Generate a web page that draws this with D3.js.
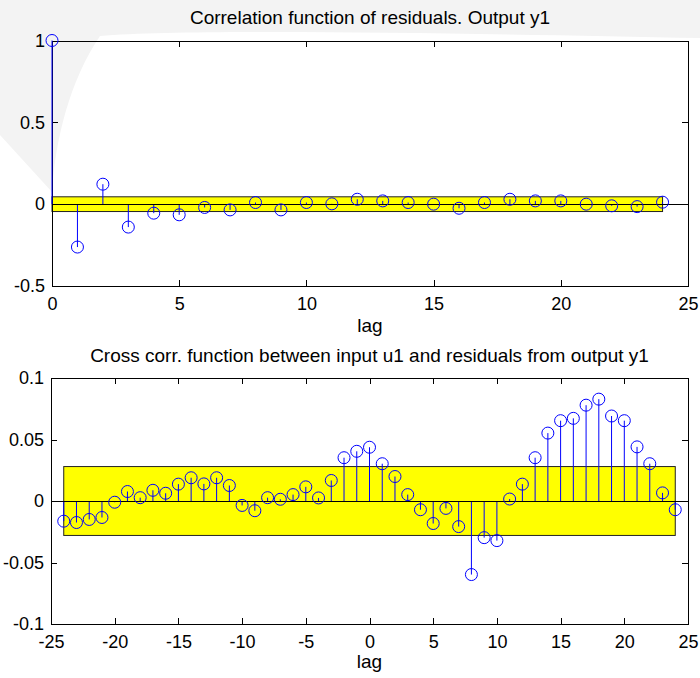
<!DOCTYPE html>
<meta charset="utf-8">
<style>
body {
  margin: 0;
  background-color: #fff;
}
svg {
  display: block;
  font-family: "Liberation Sans", Arial, Helvetica, sans-serif;
}
.axis path,
.axis line {
  fill: none;
  stroke: #000;
  stroke-width: 1px;
  shape-rendering: crispEdges;
}
.axis text {
  fill: #000;
  font-size: 18px;
}
.band {
  fill: #ffff00;
  stroke: #222;
  stroke-width: 1px;
}
.stem {
  stroke: #0000ff;
  stroke-width: 1px;
}
.mark {
  fill: none;
  stroke: #0000ff;
  stroke-width: 1px;
}
.title, .xlabel {
  font-size: 19px;
  fill: #000;
}
</style>
<svg width="700" height="678"></svg>
<script src="https://d3js.org/d3.v7.min.js"></script>
<script>

// autocorrelation of residuals, output y1
var acfLags = [0, 1, 2, 3, 4, 5, 6, 7, 8, 9, 10, 11, 12, 13, 14, 15, 16, 17, 18, 19, 20, 21, 22, 23, 24];
var acfValues = [1, -0.262, 0.122, -0.14, -0.055, -0.065, -0.02, -0.035, 0.01, -0.035, 0.01, 0.002,
                 0.03, 0.02, 0.01, 0, -0.025, 0.01, 0.03, 0.02, 0.02, 0, -0.01, -0.015, 0.012];
var acfBand = 0.045;
var acfXTicks = [0, 5, 10, 15, 20, 25];
var acfYTicks = [-0.5, 0, 0.5, 1];

// cross correlation u1 -> residuals y1
var ccfLags = [-24, -23, -22, -21, -20, -19, -18, -17, -16, -15, -14, -13, -12, -11, -10, -9, -8, -7, -6, -5, -4, -3, -2, -1,
               0, 1, 2, 3, 4, 5, 6, 7, 8, 9, 10, 11, 12, 13, 14, 15, 16, 17, 18, 19, 20, 21, 22, 23, 24];
var ccfValues = [-0.0164, -0.0175, -0.015, -0.0134, -0.001, 0.0077, 0.0027, 0.0087, 0.0063, 0.0137, 0.0189, 0.0139,
                 0.0189, 0.0126, -0.0036, -0.0079, 0.0027, 0.0014, 0.0052, 0.0115, 0.0025, 0.0167, 0.0352, 0.0404,
                 0.0437, 0.0303, 0.0199, 0.0052, -0.0071, -0.0183, -0.006, -0.0208, -0.0598, -0.0298, -0.0322, 0.0016,
                 0.0137, 0.0352, 0.0552, 0.0653, 0.0672, 0.0779, 0.0828, 0.0691, 0.0653, 0.044, 0.0303, 0.0066, -0.0071];
var ccfBand = 0.028;
var ccfXTicks = [-25, -20, -15, -10, -5, 0, 5, 10, 15, 20, 25];
var ccfYTicks = [-0.1, -0.05, 0, 0.05, 0.1];

var svg = d3.select("svg");

// faint watermark behind the plots (top strip + left wedge)
svg.append("path")
    .attr("d", "M0,0 H700 V38 C500,34 200,28 100,36 C70,80 55,140 52,192 L0,135 Z")
    .attr("fill", "#f3f3f3");

var fmt = function(d) { return String(d); };

function panel(opt) {
  var b = opt.box;
  var x = d3.scaleLinear().domain(opt.xDomain).range([b.left, b.right]);
  var y = d3.scaleLinear().domain(opt.yDomain).range([b.bottom, b.top]);
  var g = svg.append("g");

  // confidence band
  g.append("rect")
      .attr("class", "band")
      .attr("x", x(opt.lags[0]))
      .attr("width", x(opt.lags[opt.lags.length - 1]) - x(opt.lags[0]))
      .attr("y", y(opt.band))
      .attr("height", y(-opt.band) - y(opt.band));

  // axes, ticks pointing inward on all four sides
  g.append("g").attr("class", "axis")
      .attr("transform", "translate(0," + b.bottom + ")")
      .call(d3.axisBottom(x).tickValues(opt.xTicks).tickSizeInner(-6).tickSizeOuter(0).tickPadding(11).tickFormat(fmt));
  g.append("g").attr("class", "axis")
      .attr("transform", "translate(0," + b.top + ")")
      .call(d3.axisTop(x).tickValues(opt.xTicks).tickSizeInner(-6).tickSizeOuter(0).tickFormat(""));
  g.append("g").attr("class", "axis")
      .attr("transform", "translate(" + b.left + ",0)")
      .call(d3.axisLeft(y).tickValues(opt.yTicks).tickSizeInner(-6).tickSizeOuter(0).tickPadding(7).tickFormat(fmt));
  g.append("g").attr("class", "axis")
      .attr("transform", "translate(" + b.right + ",0)")
      .call(d3.axisRight(y).tickValues(opt.yTicks).tickSizeInner(-6).tickSizeOuter(0).tickFormat(""));

  var pts = opt.lags.map(function(l, i) { return {lag: l, v: opt.values[i]}; });

  g.append("g").selectAll("line")
      .data(pts)
    .enter().append("line")
      .attr("class", "stem")
      .attr("x1", function(d) { return x(d.lag); })
      .attr("x2", function(d) { return x(d.lag); })
      .attr("y1", y(0))
      .attr("y2", function(d) { return y(d.v); });

  // zero line
  g.append("line")
      .attr("x1", b.left).attr("x2", b.right)
      .attr("y1", Math.round(y(0)) + 0.5).attr("y2", Math.round(y(0)) + 0.5)
      .attr("stroke", "#000");

  g.append("g").selectAll("circle")
      .data(pts)
    .enter().append("circle")
      .attr("class", "mark")
      .attr("cx", function(d) { return x(d.lag); })
      .attr("cy", function(d) { return y(d.v); })
      .attr("r", 6);

  g.append("text")
      .attr("class", "title")
      .attr("x", (b.left + b.right) / 2)
      .attr("y", opt.titleY)
      .attr("text-anchor", "middle")
      .text(opt.title);

  g.append("text")
      .attr("class", "xlabel")
      .attr("x", (b.left + b.right) / 2)
      .attr("y", opt.labelY)
      .attr("text-anchor", "middle")
      .text("lag");
}

panel({
  box: {left: 52, right: 688, top: 40.5, bottom: 286},
  xDomain: [0, 25], yDomain: [-0.5, 1],
  lags: acfLags, values: acfValues, band: acfBand,
  xTicks: acfXTicks, yTicks: acfYTicks,
  title: "Correlation function of residuals. Output y1",
  titleY: 24, labelY: 332
});

panel({
  box: {left: 51, right: 688, top: 378, bottom: 624},
  xDomain: [-25, 25], yDomain: [-0.1, 0.1],
  lags: ccfLags, values: ccfValues, band: ccfBand,
  xTicks: ccfXTicks, yTicks: ccfYTicks,
  title: "Cross corr. function between input u1 and residuals from output y1",
  titleY: 362, labelY: 668
});

</script>
